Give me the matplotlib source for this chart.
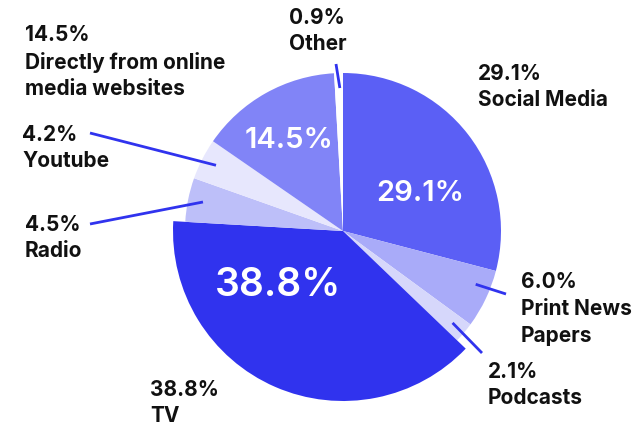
import numpy as np
import matplotlib.pyplot as plt

# share of news sources, clockwise from 12 o'clock
sources = ["Social Media", "Print News\nPapers", "Podcasts", "TV", "Radio",
           "Youtube", "Directly from online\nmedia websites", "Other"]
shares = [29.1, 6.0, 2.1, 38.8, 4.5, 4.2, 14.5, 0.9]
colors = ["#5b5ff5", "#a9abf9", "#d6d7fb", "#3033ee", "#bdbff9",
          "#e7e7fd", "#8184f7", "#ffffff"]

W, H = 639, 428
cx, cy = 343, H - 231
R = 158

plt.rcParams['font.family'] = ['Inter', 'DejaVu Sans']

fig = plt.figure(figsize=(W / 100, H / 100), dpi=100)
ax = fig.add_axes([0, 0, 1, 1])
ax.set_xlim(0, W)
ax.set_ylim(0, H)
ax.set_aspect('equal')
ax.axis('off')

wedges, _ = ax.pie(shares, colors=colors, startangle=90, counterclock=False,
                   center=(cx, cy), radius=R, frame=True)
# the TV slice sticks out a little
wedges[3].set_radius(170)

# white percentages inside the big slices
inner = {3: (278, 285, 28), 0: (420, 193, 21), 6: (289, 140, 21)}
for i, (x, y, fs) in inner.items():
    ax.text(x, H - y, f"{shares[i]:.1f}%", color='white', fontsize=fs,
            fontweight='semibold', ha='center', va='center')

# outside labels: (x, block centre y) in pixels, leader-line end,
# and where along the slice the leader starts (0..1)
outer = {
    0: (478, 87, None, 0.5),
    1: (521, 309, (506, 294), 0.33),
    2: (488, 385, (482, 353), 0.48),
    3: (150, 403, None, 0.5),
    4: (25, 238, (90, 224), 0.5),
    5: (22, 148, (90, 133), 0.5),
    6: (25, 62, None, 0.5),
    7: (289, 31, (336, 64), 0.5),
}
cum = np.cumsum([0] + shares)
for i, (x, y, end, frac) in outer.items():
    ax.text(x, H - y, f"{shares[i]:.1f}%\n{sources[i]}", color='#111111',
            fontsize=15, fontweight='bold', ha='left', va='center',
            linespacing=1.42)
    if end is not None:
        pos = cum[i] + frac * shares[i]
        ang = np.deg2rad(90 - 3.6 * pos)
        x0 = cx + 143 * np.cos(ang)
        y0 = cy + 143 * np.sin(ang)
        ax.plot([x0, end[0]], [y0, H - end[1]], color='#3033ee', lw=2,
                solid_capstyle='butt')

fig.savefig('out.png', dpi=100)
